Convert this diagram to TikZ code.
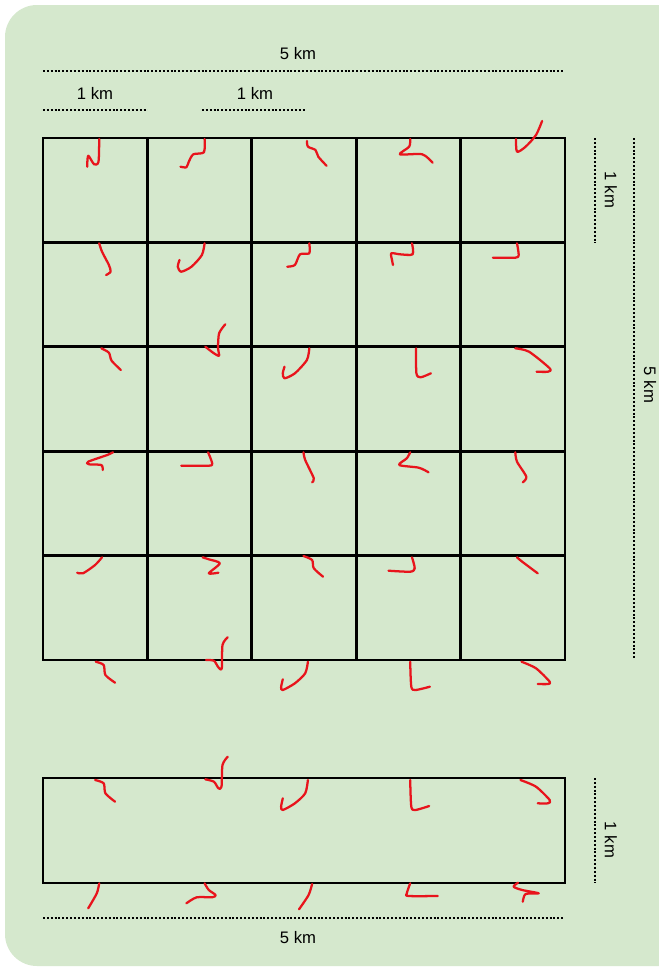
\documentclass[tikz,border=0pt]{standalone}
\usepackage{fontspec}
\setmainfont{Liberation Sans}
\definecolor{bggreen}{HTML}{D5E8CD}
\definecolor{sqred}{HTML}{E8141C}
\tikzset{
  gridline/.style={line width=2.1pt, black, line cap=rect},
  squig/.style={sqred, line width=1.7pt, line cap=round, line join=round},
  dimline/.style={line width=1.9pt, dash pattern=on 1.5pt off 1.4pt, black},
  lbl/.style={font=\fontsize{12.5}{14}\selectfont, inner sep=0pt}
}
\newcommand{\sq}[1]{\draw[squig] plot[smooth, tension=0.45] coordinates {#1};}
\begin{document}
\begin{tikzpicture}[x=0.75pt, y=-0.75pt]
\useasboundingbox (0,0) rectangle (658,968);
\fill[white] (0,0) rectangle (658,968);
\fill[bggreen, rounded corners=24pt] (5,5) rectangle (700,966);
% grid
\foreach \i in {0,...,5} {
  \draw[gridline] ({43+104.4*\i},138) -- ({43+104.4*\i},660);
  \draw[gridline] (43,{138+104.4*\i}) -- (565,{138+104.4*\i});
}
\draw[gridline] (43,138) rectangle (565,660);
\draw[gridline] (43,778) rectangle (565,883);
% dimension lines
\coordinate (t5a) at (43,71); \coordinate (t5b) at (563,71);
\draw[dimline] (t5a) -- (t5b);
\node[lbl] (t5) at (298,54) {5 km};
\coordinate (t1a) at (43,110); \coordinate (t1b) at (147,110);
\draw[dimline] (t1a) -- (t1b);
\node[lbl] (t1) at (95,93) {1 km};
\coordinate (t2a) at (202,110); \coordinate (t2b) at (306,110);
\draw[dimline] (t2a) -- (t2b);
\node[lbl] (t2) at (255,93) {1 km};
\coordinate (r1a) at (595,138); \coordinate (r1b) at (595,243);
\draw[dimline] (r1a) -- (r1b);
\node[lbl, rotate=-90] (r1) at (611,190) {1 km};
\coordinate (r5a) at (634,138); \coordinate (r5b) at (634,658);
\draw[dimline] (r5a) -- (r5b);
\node[lbl, rotate=-90] (r5) at (650,385) {5 km};
\coordinate (r6a) at (595,778); \coordinate (r6b) at (595,883);
\draw[dimline] (r6a) -- (r6b);
\node[lbl, rotate=-90] (r6) at (611,840) {1 km};
\coordinate (b5a) at (43,918); \coordinate (b5b) at (563,918);
\draw[dimline] (b5a) -- (b5b);
\node[lbl] (b5) at (298,938) {5 km};
% row 1
\sq{(87.2,166.7) (88.2,155.7) (94.1,164.3) (98.5,161.7) (99.2,139)}
\sq{(204.6,139) (203.9,152.3) (193.3,154.3) (188.8,161.7) (186.4,167.3) (180.5,166.7)}
\sq{(306.9,141) (308,146.7) (315.5,150) (318.3,156.7) (326.5,165.7)}
\sq{(410.2,139) (409.2,146.7) (399.9,154.3) (422.3,154.3) (432.6,162.7)}
\sq{(542.1,121) (536,135) (525.6,146.7) (517,151.7) (516,139)}
% row 2
\sq{(99.2,243.3) (102,251.7) (108.9,265) (110.6,271.7) (106.1,275)}
\sq{(204.6,243.3) (201.9,255) (191.5,266.7) (181.2,271.7) (177.8,266.7) (179.5,260)}
\sq{(309.3,243.3) (309.3,253.3) (300,254.3) (294.9,265) (287.3,266.7)}
\sq{(412,243.3) (412.6,254.3) (399.9,254.3) (391.3,253.3) (392,260) (393,265)}
\sq{(517,243.3) (518.7,255) (515.3,257.7) (492.9,257.7)}
\sq{(225.3,324.3) (219.1,333.3) (218,348.3) (219.1,355.7) (213.9,353.3) (205.3,346.7)}
% row 3
\sq{(101.3,348.3) (108.9,352.7) (111.6,360.7) (120.9,370)}
\sq{(309.3,348.3) (306.9,360) (294.9,373.3) (284.5,378.3) (282.8,373.3) (284.5,366.7)}
\sq{(416.1,348.3) (416.4,373.3) (420.6,377.3) (430.9,373.3)}
\sq{(515.3,348.3) (529,351.7) (549.7,368.3) (548,371.7) (536.6,371.7)}
% row 4
\sq{(113,452.3) (107.2,455) (88.2,461.7) (88.9,464.3) (101.3,465) (102.7,470)}
\sq{(208.1,452.3) (212.2,463.3) (208.8,465.7) (181.2,465.7)}
\sq{(303.5,452.3) (305.2,460) (313.8,478.3) (312.1,482.3)}
\sq{(410.2,452.3) (406.8,458.3) (399.2,465) (418.8,467.7) (428.5,472.3)}
\sq{(515.3,452.3) (517,461.7) (526.3,476.7) (522.8,482.3)}
% row 5
\sq{(102,557.3) (95.1,565) (83,573.3) (77.2,572.7)}
\sq{(202.6,557.3) (208.8,559.3) (219.8,563.3) (208.8,573.3) (218.4,572.7)}
\sq{(303.5,556) (312.1,560) (313.8,568.3) (323.1,576.7)}
\sq{(412,557.3) (414.7,568.3) (410.2,571.7) (388.5,570.7)}
\sq{(517,557.3) (522.2,561.7) (537.7,573.3)}
\sq{(227.7,637.3) (222.5,645) (221.8,668.3) (218.4,667.3) (213.9,660.7) (206,660)}
% below grid
\sq{(95.8,661.7) (103.7,665) (105.4,675) (115.1,682.7)}
\sq{(307.9,661.7) (305.2,673.3) (294.9,683.3) (282.8,690) (281.1,687.3) (282.8,679.3)}
\sq{(410.2,661.7) (411.3,686.7) (415.4,690) (429.9,686.7)}
\sq{(521.5,661.7) (536,668.3) (549.7,681.7) (548,684) (537.7,684)}
% lower rectangle top
\sq{(95.1,780) (103.7,783.3) (105.4,793.3) (115.1,801.7)}
\sq{(227.7,756.7) (222.5,765) (221.5,786.7) (218.4,788.3) (213.9,781.7) (205.3,779.3)}
\sq{(307.9,780) (305.2,793.3) (294.9,803.3) (282.8,810) (281.1,806.7) (282.8,798.3)}
\sq{(410.2,780) (411.3,806.7) (415.4,810) (429.2,806)}
\sq{(520.4,780) (536,786.7) (549.7,800) (548,803.3) (537.7,803.3)}
% lower rectangle bottom
\sq{(99.2,883.3) (96.8,893.3) (88.2,908.3)}
\sq{(204.6,883.3) (208.8,890) (215.6,895) (212.2,897.3) (196.7,897.3) (186.4,903.3)}
\sq{(312.1,884) (308.6,895) (299,909.3)}
\sq{(410.2,883.3) (406.8,893.3) (408.5,896) (437.8,896)}
\sq{(518,882.7) (513.6,886.7) (522.2,890) (538.7,893.3) (525.6,894) (522.8,901.7)}
\end{tikzpicture}
\end{document}
